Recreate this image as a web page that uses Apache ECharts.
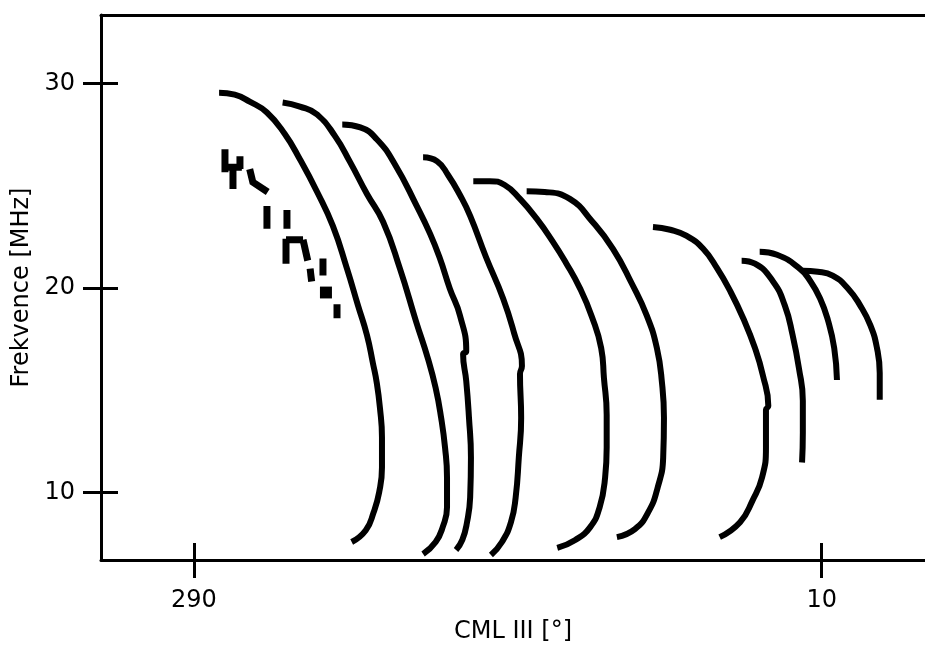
<!DOCTYPE html>
<html>
<head>
<meta charset="utf-8">
<script src="https://cdn.jsdelivr.net/npm/echarts@6/dist/echarts.min.js"></script>
<style>
html,body{margin:0;padding:0;background:#fff;overflow:hidden;}
#chart{width:925px;height:649px;}
</style>
</head>
<body>
<div id="chart"></div>
<script>
// CML III [deg] (values > 360 wrap to 0..) and frequency [MHz]
const curve1 = [[293.2,29.56],[295.2,29.46],[297.1,29.12],[299.3,28.59],[301.6,27.52],[303.5,26.30],[305.7,24.70],[307.7,23.04],[309.5,20.95],[310.9,19.15],[312.05,17.69],[312.8,16.33],[313.3,15.35],[313.7,14.14],[313.96,12.68],[313.96,11.22],[313.6,10.0],[312.9,9.03],[311.9,8.15],[310.1,7.57]];
const curve2 = [[301.3,29.08],[303.5,28.88],[305.7,28.49],[308.0,27.42],[309.9,26.16],[312.05,24.60],[314.1,23.24],[316.25,20.95],[318.3,18.37],[319.8,16.57],[320.8,15.11],[321.5,13.65],[322.0,12.19],[322.25,10.73],[322.25,9.27],[321.7,8.30],[320.8,7.57],[319.2,6.98]];
const curve3 = [[308.9,28.00],[311.2,27.86],[313.3,27.28],[315.6,26.06],[318.4,24.01],[320.1,22.65],[321.35,21.44],[322.6,19.98],[323.9,18.66],[324.7,16.91],[324.3,16.76],[324.7,15.45],[325.05,13.65],[325.3,11.70],[325.2,9.76],[324.8,8.54],[324.2,7.67],[323.4,7.18]];
const curve4 = [[319.2,26.40],[321.0,26.20],[322.4,25.52],[323.9,24.55],[325.2,23.53],[327.2,21.53],[329.4,19.49],[330.8,17.79],[331.8,16.18],[331.55,15.79],[331.7,13.65],[331.4,11.70],[331.0,9.76],[330.4,8.54],[329.25,7.57],[327.85,6.93]];
const curve5 = [[325.6,25.23],[327.7,25.23],[329.6,25.04],[331.55,24.36],[333.7,23.38],[335.75,22.26],[337.4,21.24],[339.2,19.98],[340.7,18.61],[341.9,17.06],[342.25,15.60],[342.6,13.80],[342.6,12.19],[342.4,10.73],[341.7,9.27],[340.5,8.30],[338.6,7.67],[336.3,7.28]];
const curve6 = [[332.4,24.74],[334.7,24.70],[337.9,24.36],[340.7,23.28],[343.4,21.92],[345.8,20.22],[347.7,18.66],[349.0,17.06],[349.65,15.35],[349.9,13.65],[349.8,11.70],[349.1,10.24],[347.9,9.03],[346.2,8.20],[343.9,7.81]];
const curve7 = [[348.5,22.99],[350.7,22.85],[352.8,22.55],[354.9,21.92],[356.7,20.95],[358.3,19.88],[360.0,18.52],[361.5,17.06],[362.5,15.74],[363.2,14.23],[362.9,14.04],[362.9,12.19],[362.4,10.73],[361.2,9.61],[359.6,8.54],[357.0,7.81]];
const curve8 = [[359.8,21.34],[361.5,21.19],[363.8,20.32],[365.3,19.15],[366.3,17.69],[367.1,16.08],[367.6,14.48],[367.6,12.92],[367.5,11.46]];
const curve9 = [[362.1,21.78],[364.3,21.63],[367.2,20.95],[368.5,20.37],[369.8,19.49],[370.8,18.42],[371.6,17.06],[371.95,15.50]];
const curve10 = [[367.6,20.85],[369.5,20.80],[371.4,20.61],[373.35,19.98],[374.9,19.15],[376.2,18.18],[377.05,17.06],[377.4,15.84],[377.4,14.53]];
const fragments = [
  [[293.95,26.79],[293.95,25.67]],
  [[293.95,25.91],[296.1,25.91]],
  [[295.86,26.45],[295.86,25.82]],
  [[294.97,25.91],[294.97,24.84]],
  [[297.1,25.82],[297.5,25.18],[299.4,24.70]],
  [[299.3,24.01],[299.3,22.90]],
  [[301.85,23.82],[301.85,22.90]],
  [[301.73,22.41],[301.73,21.19]],
  [[301.73,22.36],[303.9,22.36]],
  [[303.9,22.36],[304.5,21.34]],
  [[306.44,21.44],[306.44,20.61]],
  [[304.8,20.95],[305.0,20.32]],
  [[308.23,19.20],[308.23,18.52]]
];
const fragmentBlocks = [
  [[306.82,20.07],[306.82,19.49]]
];
const xTicks = [290, 370];
const yTicks = [10, 20, 30];
const xName = 'CML III [°]';
const yName = 'Frekvence [MHz]';

const curves = [curve1, curve2, curve3, curve4, curve5, curve6, curve7, curve8, curve9, curve10];
const FONT = 'DejaVu Sans';
const XMIN = 278.15, XMAX = 383.17, YMIN = 6.69, YMAX = 33.36;

const series = [];
curves.forEach(c => series.push({
  type: 'line', data: c, showSymbol: false, smooth: 0.5, silent: true,
  lineStyle: { color: '#000', width: 6, cap: 'butt', join: 'round' }
}));
fragments.forEach(f => series.push({
  type: 'line', data: f, showSymbol: false, silent: true,
  lineStyle: { color: '#000', width: 7, cap: 'butt', join: 'miter' }
}));
fragmentBlocks.forEach(f => series.push({
  type: 'line', data: f, showSymbol: false, silent: true,
  lineStyle: { color: '#000', width: 12, cap: 'butt' }
}));

const chart = echarts.init(document.getElementById('chart'), null, { renderer: 'canvas', width: 925, height: 649 });
chart.setOption({
  animation: false,
  backgroundColor: '#fff',
  grid: { left: 101, top: 15, right: 0, height: 548, containLabel: false },
  xAxis: [
    {
      type: 'value', position: 'bottom', min: XMIN, max: XMAX,
      name: xName, nameLocation: 'middle', nameGap: 60,
      nameTextStyle: { fontFamily: FONT, fontSize: 24, color: '#000' },
      axisLine: { show: true, lineStyle: { color: '#000', width: 3 } },
      axisTick: { show: true, inside: false, length: 18, customValues: xTicks, lineStyle: { color: '#000', width: 3 } },
      axisLabel: { show: true, customValues: xTicks, margin: 29, fontFamily: FONT, fontSize: 24, color: '#000',
        formatter: v => String(Math.round(v) % 360) },
      splitLine: { show: false }
    },
    {
      type: 'value', position: 'bottom', min: XMIN, max: XMAX,
      axisLine: { show: false },
      axisTick: { show: true, inside: true, length: 17, customValues: xTicks, lineStyle: { color: '#000', width: 3 } },
      axisLabel: { show: false },
      splitLine: { show: false }
    },
    {
      type: 'value', position: 'top', min: XMIN, max: XMAX,
      axisLine: { show: true, lineStyle: { color: '#000', width: 3 } },
      axisTick: { show: false }, axisLabel: { show: false }, splitLine: { show: false }
    }
  ],
  yAxis: [
    {
      type: 'value', position: 'left', min: YMIN, max: YMAX,
      name: yName, nameLocation: 'middle', nameGap: 66, nameRotate: 90,
      nameTextStyle: { fontFamily: FONT, fontSize: 24, color: '#000' },
      axisLine: { show: true, lineStyle: { color: '#000', width: 3 } },
      axisTick: { show: true, inside: false, length: 18, customValues: yTicks, lineStyle: { color: '#000', width: 3 } },
      axisLabel: { show: true, customValues: yTicks, margin: 26, fontFamily: FONT, fontSize: 24, color: '#000' },
      splitLine: { show: false }
    },
    {
      type: 'value', position: 'left', min: YMIN, max: YMAX,
      axisLine: { show: false },
      axisTick: { show: true, inside: true, length: 17, customValues: yTicks, lineStyle: { color: '#000', width: 3 } },
      axisLabel: { show: false },
      splitLine: { show: false }
    }
  ],
  series: series
});
</script>
</body>
</html>
